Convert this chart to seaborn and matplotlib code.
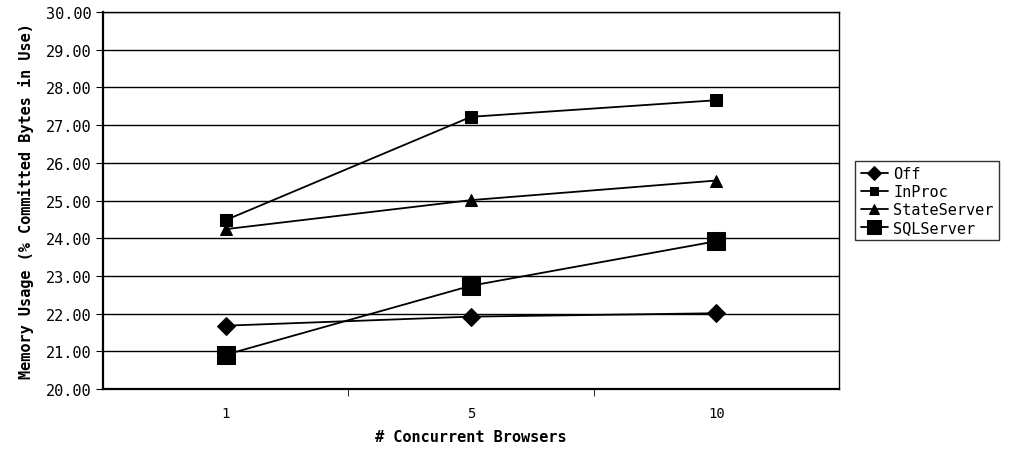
import pandas as pd
import matplotlib.pyplot as plt
import seaborn as sns
import numpy as np

browsers = ["1", "5", "10"]
seriesNames = ["Off", "InProc", "StateServer", "SQLServer"]
offValues = [21.68, 21.92, 22.01]
inProcValues = [24.48, 27.22, 27.66]
stateServerValues = [24.24, 25.01, 25.53]
sqlServerValues = [20.91, 22.74, 23.92]

allValues = [offValues, inProcValues, stateServerValues, sqlServerValues]
rows = []
for name, vals in zip(seriesNames, allValues):
  for i, v in enumerate(vals):
    rows.append({"pos": i, "browsers": browsers[i], "series": name, "usage": v})
data = pd.DataFrame(rows)

sns.set_style("white")
plt.rcParams['font.family'] = ['DejaVu Sans Mono']
plt.rcParams['text.color'] = 'black'
plt.rcParams['axes.labelcolor'] = 'black'
plt.rcParams['xtick.color'] = 'black'
plt.rcParams['ytick.color'] = 'black'

fig = plt.figure(figsize=(10.3, 4.56), dpi=100)
ax = fig.add_axes([0.1, 0.1447, 0.7146, 0.8268])

markerStyles = {"Off": ("D", 9), "InProc": ("s", 8), "StateServer": ("^", 9), "SQLServer": ("s", 13)}
for name in seriesNames:
  m, ms = markerStyles[name]
  sns.lineplot(data=data[data["series"] == name], x="pos", y="usage", ax=ax,
               color="black", linewidth=1.3, marker=m, markersize=ms,
               markeredgecolor="black", markerfacecolor="black", label=name)

ax.set_ylim(20, 30)
ax.set_yticks(np.arange(20, 30.01, 1))
ax.set_yticklabels([f"{v:.2f}" for v in np.arange(20, 30.01, 1)], fontsize=11)
ax.yaxis.grid(True, color="black", linewidth=1)
ax.set_xlim(-0.5, 2.5)
ax.set_xticks([0, 1, 2])
ax.set_xticklabels(browsers, fontsize=10)
ax.set_xticks([0.5, 1.5], minor=True)
ax.tick_params(axis="x", which="major", length=0, pad=12)
ax.tick_params(axis="x", which="minor", length=5, direction="out", color="black", bottom=True)
ax.tick_params(axis="y", length=5, direction="out", color="black", left=True)
for side in ["left", "bottom"]:
  ax.spines[side].set_color("black")
  ax.spines[side].set_linewidth(1.6)
for side in ["top", "right"]:
  ax.spines[side].set_color("black")
  ax.spines[side].set_linewidth(1.0)

ax.set_xlabel("# Concurrent Browsers", fontsize=11, fontweight="bold", labelpad=7)
ax.set_ylabel("Memory Usage (% Committed Bytes in Use)", fontsize=11, fontweight="bold", labelpad=8)

leg = ax.legend(loc="center left", bbox_to_anchor=(1.022, 0.5), frameon=True, fancybox=False,
                fontsize=11, handlelength=1.8, handletextpad=0.35, borderpad=0.35,
                labelspacing=0.2, borderaxespad=0)
leg.get_frame().set_edgecolor("black")
leg.get_frame().set_linewidth(1.0)
for h, name in zip(leg.legend_handles, seriesNames):
  h.set_markersize(markerStyles[name][1] * 0.8)

fig.savefig("out.png", dpi=100)
